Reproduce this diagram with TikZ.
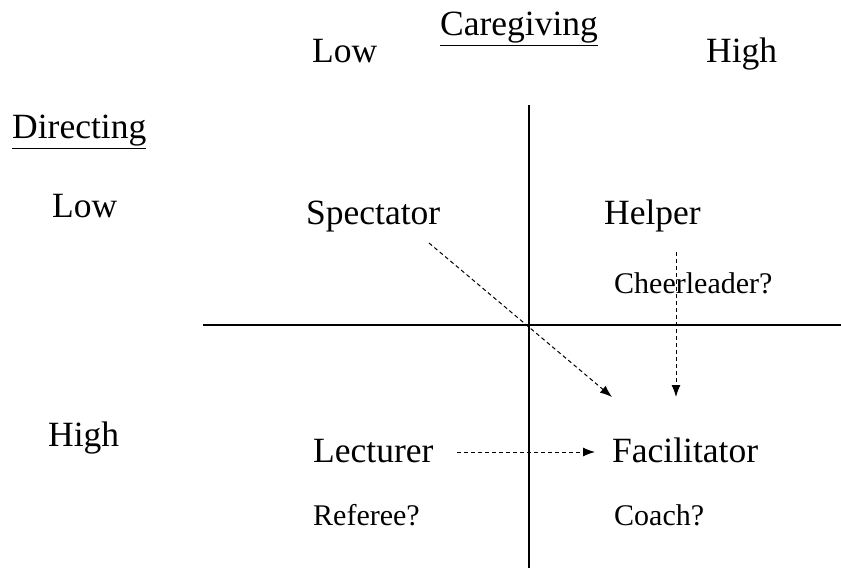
\documentclass[tikz,border=0pt]{standalone}
\usepackage{fontspec}
\setmainfont{Liberation Serif}
\usetikzlibrary{arrows.meta}
\begin{document}
\begin{tikzpicture}[x=1bp,y=-1bp,
  big/.style={font=\fontsize{35.5bp}{42bp}\selectfont, inner sep=0pt, anchor=base west},
  small/.style={font=\fontsize{30bp}{36bp}\selectfont, inner sep=0pt, anchor=base west},
  axis/.style={line width=1.3bp, black},
  flow/.style={line width=1bp, dash pattern=on 4bp off 3bp, -{Latex[length=12bp,width=9bp]}}
]
\useasboundingbox (0,0) rectangle (841,568);
% axes
\coordinate (vt) at (529,105);
\coordinate (vb) at (529,568);
\coordinate (hl) at (203,325);
\coordinate (hr) at (841,325);
\draw[axis] (vt) -- (vb);
\draw[axis] (hl) -- (hr);
% headings
\node[big] (care) at (440,36) {\underline{Caregiving}};
\node[big] (clow) at (312,63) {Low};
\node[big] (chigh) at (706,63) {High};
\node[big] (dir) at (12,139) {\underline{Directing}};
\node[big] (dlow) at (52,218) {Low};
\node[big] (dhigh) at (48,446) {High};
% quadrant labels
\node[big] (spec) at (306,225) {Spectator};
\node[big] (help) at (604,225) {Helper};
\node[small] (cheer) at (614,293) {Cheerleader?};
\node[big] (lect) at (313,462) {Lecturer};
\node[big] (fac) at (612,462) {Facilitator};
\node[small] (ref) at (313,525) {Referee?};
\node[small] (coach) at (614,525) {Coach?};
% arrows
\coordinate (s1) at (429,243);
\coordinate (e1) at (612,397);
\coordinate (s2) at (676,252);
\coordinate (e2) at (676,397);
\coordinate (s3) at (457,452);
\coordinate (e3) at (595,452);
\draw[flow] (s1) -- (e1);
\draw[flow] (s2) -- (e2);
\draw[flow] (s3) -- (e3);
\end{tikzpicture}
\end{document}
